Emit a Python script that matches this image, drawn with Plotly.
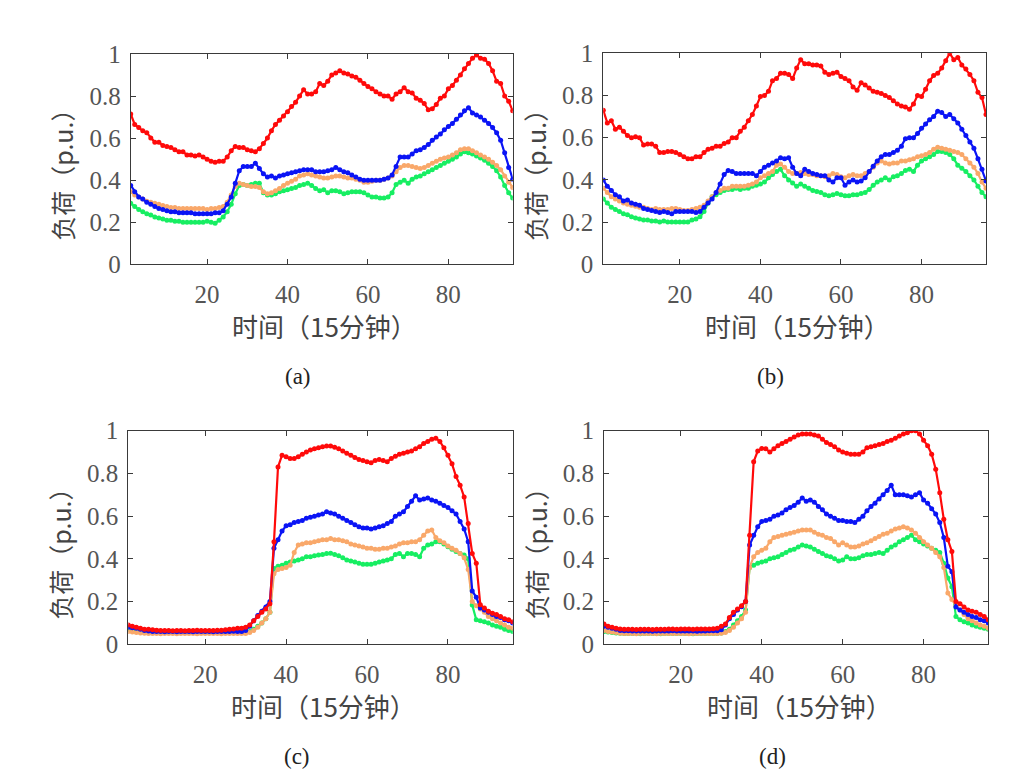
import plotly.graph_objects as go

time_slots = list(range(1, 97))
x_ticks = [20, 40, 60, 80]
y_ticks = [0, 0.2, 0.4, 0.6, 0.8, 1]
y_tick_text = ["0", "0.2", "0.4", "0.6", "0.8", "1"]
panel_labels = ["(a)", "(b)", "(c)", "(d)"]
x_title = "时间（15分钟）"
y_title = "负荷（p.u.）"

a_red = [0.715, 0.665, 0.65, 0.635, 0.625, 0.60, 0.58, 0.58, 0.565, 0.56,
         0.555, 0.545, 0.535, 0.535, 0.52, 0.52, 0.515, 0.52, 0.51, 0.50,
         0.49, 0.485, 0.49, 0.49, 0.51, 0.54, 0.56, 0.555, 0.555, 0.545,
         0.54, 0.535, 0.55, 0.575, 0.60, 0.635, 0.665, 0.685, 0.705, 0.725,
         0.75, 0.77, 0.80, 0.83, 0.81, 0.81, 0.82, 0.86, 0.85, 0.87,
         0.90, 0.91, 0.92, 0.91, 0.905, 0.895, 0.89, 0.875, 0.86, 0.845,
         0.835, 0.82, 0.81, 0.80, 0.80, 0.785, 0.81, 0.82, 0.84, 0.82,
         0.815, 0.79, 0.78, 0.765, 0.735, 0.74, 0.76, 0.79, 0.80, 0.835,
         0.85, 0.875, 0.90, 0.93, 0.955, 0.98, 0.995, 0.98, 0.975, 0.955,
         0.92, 0.87, 0.86, 0.80, 0.775, 0.73]
a_blue = [0.375, 0.345, 0.32, 0.31, 0.295, 0.285, 0.275, 0.265, 0.26, 0.255,
          0.25, 0.25, 0.245, 0.245, 0.245, 0.245, 0.24, 0.24, 0.24, 0.24,
          0.24, 0.245, 0.245, 0.255, 0.285, 0.32, 0.385, 0.445, 0.465, 0.465,
          0.465, 0.48, 0.455, 0.43, 0.415, 0.42, 0.41, 0.42, 0.425, 0.43,
          0.435, 0.44, 0.445, 0.45, 0.45, 0.45, 0.44, 0.44, 0.44, 0.445,
          0.45, 0.46, 0.45, 0.44, 0.435, 0.425, 0.415, 0.405, 0.40, 0.40,
          0.40, 0.40, 0.40, 0.405, 0.41, 0.425, 0.465, 0.51, 0.51, 0.51,
          0.525, 0.54, 0.545, 0.555, 0.57, 0.59, 0.605, 0.62, 0.64, 0.655,
          0.67, 0.69, 0.71, 0.73, 0.745, 0.72, 0.71, 0.70, 0.685, 0.67,
          0.65, 0.625, 0.59, 0.53, 0.46, 0.405]
a_orange = [0.345, 0.33, 0.32, 0.31, 0.30, 0.295, 0.29, 0.285, 0.28, 0.275,
            0.27, 0.27, 0.265, 0.265, 0.265, 0.265, 0.265, 0.265, 0.265, 0.26,
            0.265, 0.265, 0.27, 0.275, 0.295, 0.33, 0.37, 0.385, 0.38, 0.375,
            0.37, 0.37, 0.365, 0.345, 0.335, 0.34, 0.35, 0.36, 0.375, 0.385,
            0.395, 0.405, 0.42, 0.425, 0.43, 0.425, 0.42, 0.415, 0.41, 0.41,
            0.415, 0.42, 0.42, 0.415, 0.41, 0.41, 0.405, 0.40, 0.39, 0.39,
            0.395, 0.40, 0.40, 0.405, 0.41, 0.42, 0.44, 0.46, 0.47, 0.47,
            0.465, 0.46, 0.455, 0.46, 0.47, 0.48, 0.49, 0.50, 0.505, 0.51,
            0.52, 0.53, 0.545, 0.55, 0.55, 0.54, 0.53, 0.52, 0.51, 0.50,
            0.485, 0.47, 0.45, 0.42, 0.39, 0.365]
a_green = [0.29, 0.275, 0.26, 0.25, 0.24, 0.235, 0.225, 0.22, 0.215, 0.21,
           0.21, 0.205, 0.205, 0.20, 0.20, 0.20, 0.20, 0.20, 0.20, 0.205,
           0.20, 0.195, 0.21, 0.225, 0.25, 0.285, 0.335, 0.375, 0.38, 0.375,
           0.38, 0.385, 0.385, 0.34, 0.33, 0.33, 0.335, 0.345, 0.35, 0.355,
           0.36, 0.365, 0.375, 0.38, 0.385, 0.375, 0.36, 0.35, 0.355, 0.34,
           0.35, 0.35, 0.345, 0.335, 0.34, 0.345, 0.345, 0.345, 0.34, 0.33,
           0.32, 0.32, 0.315, 0.315, 0.32, 0.34, 0.38, 0.39, 0.40, 0.385,
           0.405, 0.415, 0.42, 0.43, 0.44, 0.45, 0.46, 0.47, 0.48, 0.49,
           0.50, 0.51, 0.525, 0.535, 0.53, 0.525, 0.515, 0.505, 0.495, 0.48,
           0.465, 0.445, 0.415, 0.375, 0.34, 0.315]

b_red = [0.73, 0.67, 0.68, 0.64, 0.65, 0.63, 0.61, 0.60, 0.605, 0.60,
         0.565, 0.57, 0.57, 0.56, 0.53, 0.53, 0.535, 0.535, 0.53, 0.52,
         0.51, 0.50, 0.50, 0.51, 0.51, 0.53, 0.545, 0.55, 0.56, 0.56,
         0.573, 0.58, 0.60, 0.60, 0.63, 0.65, 0.68, 0.71, 0.75, 0.795,
         0.80, 0.82, 0.87, 0.88, 0.905, 0.905, 0.90, 0.88, 0.93, 0.97,
         0.95, 0.95, 0.945, 0.945, 0.94, 0.91, 0.90, 0.905, 0.91, 0.89,
         0.88, 0.87, 0.84, 0.825, 0.86, 0.85, 0.835, 0.82, 0.815, 0.81,
         0.80, 0.79, 0.775, 0.76, 0.75, 0.745, 0.735, 0.76, 0.80, 0.795,
         0.83, 0.87, 0.895, 0.905, 0.93, 0.965, 1.0, 0.97, 0.98, 0.945,
         0.925, 0.90, 0.87, 0.815, 0.79, 0.71]
b_blue = [0.40, 0.37, 0.35, 0.33, 0.32, 0.30, 0.305, 0.29, 0.285, 0.28,
          0.265, 0.26, 0.255, 0.25, 0.245, 0.25, 0.245, 0.24, 0.25, 0.25,
          0.25, 0.25, 0.25, 0.245, 0.25, 0.27, 0.29, 0.31, 0.34, 0.38,
          0.425, 0.445, 0.44, 0.43, 0.43, 0.43, 0.43, 0.43, 0.42, 0.44,
          0.46, 0.47, 0.48, 0.49, 0.505, 0.50, 0.505, 0.46, 0.43, 0.42,
          0.45, 0.44, 0.43, 0.425, 0.42, 0.42, 0.40, 0.39, 0.41, 0.41,
          0.375, 0.39, 0.40, 0.39, 0.395, 0.41, 0.44, 0.465, 0.49, 0.51,
          0.52, 0.52, 0.53, 0.54, 0.56, 0.595, 0.60, 0.60, 0.62, 0.645,
          0.665, 0.685, 0.70, 0.725, 0.72, 0.70, 0.71, 0.69, 0.67, 0.64,
          0.61, 0.58, 0.55, 0.50, 0.45, 0.395]
b_orange = [0.36, 0.34, 0.32, 0.31, 0.30, 0.29, 0.285, 0.28, 0.275, 0.27,
            0.27, 0.265, 0.26, 0.265, 0.26, 0.26, 0.26, 0.265, 0.265, 0.26,
            0.255, 0.255, 0.26, 0.265, 0.27, 0.28, 0.30, 0.32, 0.34, 0.35,
            0.36, 0.36, 0.37, 0.37, 0.37, 0.37, 0.375, 0.38, 0.39, 0.41,
            0.42, 0.43, 0.44, 0.47, 0.475, 0.46, 0.44, 0.43, 0.43, 0.435,
            0.43, 0.425, 0.425, 0.42, 0.42, 0.415, 0.42, 0.43, 0.425, 0.415,
            0.41, 0.42, 0.425, 0.42, 0.42, 0.43, 0.44, 0.46, 0.48, 0.49,
            0.48, 0.475, 0.48, 0.48, 0.49, 0.49, 0.495, 0.50, 0.51, 0.515,
            0.52, 0.53, 0.545, 0.555, 0.55, 0.545, 0.54, 0.535, 0.53, 0.52,
            0.50, 0.48, 0.46, 0.43, 0.39, 0.36]
b_green = [0.31, 0.29, 0.27, 0.26, 0.25, 0.24, 0.235, 0.225, 0.22, 0.215,
           0.21, 0.21, 0.205, 0.205, 0.20, 0.205, 0.20, 0.20, 0.20, 0.20,
           0.20, 0.20, 0.21, 0.215, 0.225, 0.25, 0.29, 0.32, 0.33, 0.34,
           0.35, 0.355, 0.355, 0.36, 0.355, 0.36, 0.36, 0.37, 0.375, 0.38,
           0.39, 0.41, 0.425, 0.44, 0.45, 0.42, 0.40, 0.385, 0.37, 0.38,
           0.37, 0.36, 0.35, 0.345, 0.34, 0.33, 0.325, 0.33, 0.335, 0.33,
           0.325, 0.325, 0.33, 0.33, 0.335, 0.34, 0.355, 0.375, 0.39, 0.40,
           0.41, 0.40, 0.415, 0.42, 0.43, 0.445, 0.45, 0.44, 0.47, 0.49,
           0.50, 0.51, 0.52, 0.535, 0.535, 0.53, 0.52, 0.50, 0.47, 0.455,
           0.44, 0.42, 0.40, 0.37, 0.34, 0.32]

c_red = [0.09, 0.085, 0.08, 0.075, 0.07, 0.07, 0.068, 0.066, 0.065, 0.065,
         0.065, 0.064, 0.065, 0.065, 0.064, 0.065, 0.065, 0.066, 0.065, 0.065,
         0.065, 0.065, 0.066, 0.066, 0.068, 0.07, 0.072, 0.075, 0.075, 0.08,
         0.09, 0.11, 0.13, 0.15, 0.165, 0.19, 0.48, 0.83, 0.885, 0.878,
         0.87, 0.87, 0.878, 0.89, 0.90, 0.91, 0.915, 0.92, 0.925, 0.928,
         0.928, 0.922, 0.915, 0.905, 0.895, 0.885, 0.875, 0.865, 0.86, 0.855,
         0.85, 0.86, 0.865, 0.86, 0.855, 0.87, 0.88, 0.89, 0.895, 0.90,
         0.905, 0.915, 0.925, 0.94, 0.95, 0.96, 0.965, 0.95, 0.92, 0.885,
         0.845, 0.785, 0.745, 0.69, 0.565, 0.425, 0.38, 0.185, 0.17, 0.155,
         0.145, 0.14, 0.13, 0.12, 0.115, 0.105]
c_blue = [0.08, 0.078, 0.075, 0.07, 0.065, 0.062, 0.06, 0.06, 0.06, 0.059,
          0.06, 0.06, 0.059, 0.06, 0.06, 0.06, 0.059, 0.06, 0.06, 0.06,
          0.06, 0.059, 0.06, 0.06, 0.06, 0.06, 0.061, 0.06, 0.06, 0.065,
          0.085, 0.11, 0.135, 0.155, 0.175, 0.20, 0.45, 0.49, 0.53, 0.555,
          0.56, 0.57, 0.575, 0.58, 0.59, 0.595, 0.60, 0.605, 0.61, 0.62,
          0.615, 0.61, 0.60, 0.59, 0.58, 0.57, 0.56, 0.55, 0.545, 0.545,
          0.54, 0.545, 0.55, 0.555, 0.565, 0.575, 0.60, 0.61, 0.62, 0.645,
          0.67, 0.695, 0.675, 0.68, 0.685, 0.675, 0.67, 0.66, 0.65, 0.64,
          0.625, 0.61, 0.575, 0.54, 0.48, 0.25, 0.22, 0.17, 0.16, 0.15,
          0.14, 0.13, 0.125, 0.115, 0.11, 0.10]
c_orange = [0.06, 0.058, 0.055, 0.053, 0.052, 0.05, 0.05, 0.05, 0.049, 0.05,
            0.05, 0.05, 0.049, 0.05, 0.05, 0.05, 0.05, 0.049, 0.05, 0.05,
            0.05, 0.05, 0.05, 0.049, 0.05, 0.05, 0.05, 0.05, 0.05, 0.051,
            0.055, 0.065, 0.08, 0.10, 0.12, 0.15, 0.33, 0.35, 0.355, 0.36,
            0.37, 0.43, 0.465, 0.47, 0.475, 0.475, 0.48, 0.485, 0.49, 0.49,
            0.495, 0.49, 0.49, 0.485, 0.48, 0.47, 0.465, 0.46, 0.455, 0.45,
            0.45, 0.445, 0.445, 0.45, 0.45, 0.455, 0.46, 0.47, 0.475, 0.475,
            0.48, 0.48, 0.49, 0.51, 0.53, 0.535, 0.50, 0.485, 0.475, 0.46,
            0.45, 0.44, 0.425, 0.405, 0.35, 0.20, 0.18, 0.165, 0.15, 0.13,
            0.12, 0.11, 0.10, 0.09, 0.08, 0.075]
c_green = [0.07, 0.068, 0.065, 0.062, 0.06, 0.058, 0.057, 0.056, 0.055, 0.055,
           0.055, 0.055, 0.054, 0.055, 0.055, 0.055, 0.055, 0.054, 0.055, 0.055,
           0.055, 0.055, 0.055, 0.054, 0.055, 0.055, 0.055, 0.055, 0.055, 0.056,
           0.06, 0.07, 0.085, 0.10, 0.12, 0.15, 0.355, 0.365, 0.37, 0.38,
           0.385, 0.39, 0.395, 0.40, 0.41, 0.41, 0.415, 0.418, 0.42, 0.425,
           0.426, 0.42, 0.415, 0.405, 0.395, 0.39, 0.385, 0.38, 0.375, 0.375,
           0.375, 0.38, 0.385, 0.39, 0.395, 0.40, 0.42, 0.425, 0.41, 0.425,
           0.425, 0.42, 0.41, 0.45, 0.465, 0.47, 0.48, 0.48, 0.47, 0.457,
           0.445, 0.434, 0.425, 0.418, 0.40, 0.184, 0.115, 0.11, 0.105, 0.10,
           0.09, 0.085, 0.08, 0.07, 0.065, 0.06]

d_red = [0.095, 0.085, 0.08, 0.075, 0.072, 0.07, 0.07, 0.07, 0.069, 0.07,
         0.07, 0.07, 0.069, 0.07, 0.07, 0.07, 0.072, 0.072, 0.071, 0.072,
         0.072, 0.072, 0.071, 0.072, 0.072, 0.072, 0.072, 0.073, 0.075, 0.085,
         0.095, 0.125, 0.15, 0.165, 0.18, 0.20, 0.51, 0.855, 0.905, 0.917,
         0.915, 0.90, 0.915, 0.93, 0.94, 0.95, 0.96, 0.97, 0.98, 0.985,
         0.985, 0.985, 0.98, 0.975, 0.96, 0.945, 0.935, 0.925, 0.91, 0.90,
         0.895, 0.89, 0.89, 0.89, 0.90, 0.92, 0.925, 0.93, 0.935, 0.94,
         0.95, 0.955, 0.965, 0.975, 0.985, 0.99, 1.0, 1.0, 0.985, 0.955,
         0.93, 0.89, 0.82, 0.71, 0.585, 0.49, 0.435, 0.20, 0.19, 0.175,
         0.16, 0.155, 0.15, 0.14, 0.13, 0.115]
d_blue = [0.085, 0.08, 0.075, 0.07, 0.065, 0.064, 0.063, 0.062, 0.062, 0.062,
          0.062, 0.062, 0.061, 0.062, 0.062, 0.062, 0.062, 0.063, 0.062, 0.062,
          0.062, 0.062, 0.062, 0.061, 0.062, 0.062, 0.063, 0.063, 0.064, 0.068,
          0.09, 0.12, 0.14, 0.16, 0.176, 0.20, 0.465, 0.51, 0.55, 0.575,
          0.58, 0.585, 0.60, 0.605, 0.615, 0.63, 0.64, 0.65, 0.665, 0.685,
          0.67, 0.675, 0.665, 0.645, 0.63, 0.61, 0.60, 0.59, 0.58, 0.58,
          0.575, 0.575, 0.57, 0.585, 0.60, 0.625, 0.645, 0.66, 0.68, 0.70,
          0.72, 0.745, 0.70, 0.70, 0.70, 0.695, 0.69, 0.70, 0.71, 0.675,
          0.66, 0.635, 0.61, 0.57, 0.50, 0.365, 0.34, 0.175, 0.16, 0.15,
          0.14, 0.13, 0.125, 0.115, 0.11, 0.10]
d_orange = [0.065, 0.06, 0.058, 0.055, 0.052, 0.05, 0.05, 0.05, 0.049, 0.05,
            0.05, 0.05, 0.05, 0.049, 0.05, 0.05, 0.05, 0.05, 0.05, 0.05,
            0.05, 0.049, 0.05, 0.05, 0.05, 0.05, 0.05, 0.05, 0.05, 0.052,
            0.055, 0.065, 0.08, 0.10, 0.12, 0.15, 0.36, 0.41, 0.43, 0.44,
            0.45, 0.48, 0.50, 0.505, 0.51, 0.515, 0.52, 0.525, 0.53, 0.535,
            0.535, 0.535, 0.525, 0.515, 0.51, 0.50, 0.495, 0.48, 0.465, 0.475,
            0.465, 0.455, 0.455, 0.46, 0.47, 0.475, 0.485, 0.495, 0.505, 0.515,
            0.52, 0.53, 0.54, 0.545, 0.55, 0.545, 0.535, 0.52, 0.50, 0.48,
            0.465, 0.45, 0.43, 0.41, 0.36, 0.24, 0.21, 0.18, 0.16, 0.14,
            0.12, 0.11, 0.10, 0.09, 0.085, 0.075]
d_green = [0.06, 0.058, 0.055, 0.053, 0.052, 0.05, 0.05, 0.05, 0.05, 0.049,
           0.05, 0.05, 0.05, 0.05, 0.049, 0.05, 0.05, 0.05, 0.05, 0.05,
           0.05, 0.05, 0.049, 0.05, 0.05, 0.05, 0.05, 0.05, 0.05, 0.053,
           0.06, 0.07, 0.09, 0.11, 0.13, 0.16, 0.36, 0.37, 0.38, 0.385,
           0.39, 0.40, 0.405, 0.41, 0.42, 0.43, 0.44, 0.445, 0.455, 0.465,
           0.46, 0.455, 0.445, 0.435, 0.425, 0.415, 0.41, 0.40, 0.39, 0.395,
           0.41, 0.40, 0.40, 0.405, 0.415, 0.42, 0.42, 0.425, 0.43, 0.425,
           0.44, 0.455, 0.465, 0.48, 0.49, 0.50, 0.51, 0.49, 0.48, 0.47,
           0.46, 0.45, 0.44, 0.43, 0.38, 0.31, 0.27, 0.13, 0.115, 0.105,
           0.10, 0.09, 0.085, 0.08, 0.075, 0.07]

panels = [
    {"red": a_red, "blue": a_blue, "orange": a_orange, "green": a_green},
    {"red": b_red, "blue": b_blue, "orange": b_orange, "green": b_green},
    {"red": c_red, "blue": c_blue, "orange": c_orange, "green": c_green},
    {"red": d_red, "blue": d_blue, "orange": d_orange, "green": d_green},
]
colors = {"green": "#17EE62", "orange": "#F9A86A", "blue": "#0A14F5", "red": "#FF0A0A"}
draw_order = ["green", "orange", "blue", "red"]

W, H = 1020, 779
OFF = 8  # the page body adds an 8 px margin around the figure
# plot boxes in page pixels: (left, right, top, bottom)
boxes = [(130.7, 512.7, 54.0, 264.3),
         (603.3, 986.0, 53.3, 264.3),
         (128.3, 512.7, 430.7, 644.3),
         (604.0, 988.3, 430.7, 644.3)]


def fx(px):
    return (px - OFF) / W


def fy(py):
    return 1 - (py - OFF) / H


serif = "Liberation Serif"
fig = go.Figure()
annotations = []
for i, (p, box) in enumerate(zip(panels, boxes)):
    n = "" if i == 0 else str(i + 1)
    for key in draw_order:
        fig.add_trace(go.Scatter(
            x=time_slots, y=p[key], mode="lines+markers",
            line=dict(color=colors[key], width=2.2),
            marker=dict(color=colors[key], size=5, symbol="circle"),
            xaxis="x" + n, yaxis="y" + n, showlegend=False,
            hoverinfo="x+y"))
    l, r, t, b = box
    axis_common = dict(showline=True, linecolor="#3a3a3a", linewidth=1, mirror="ticks",
                       ticks="inside", ticklen=5, tickcolor="#3a3a3a", showgrid=False,
                       zeroline=False, automargin=False,
                       tickfont=dict(family=serif, size=25, color="#555555"))
    fig.update_layout(**{
        "xaxis" + n: dict(domain=[fx(l), fx(r)], range=[1, 96], tickvals=x_ticks,
                          anchor="y" + n, ticklabelstandoff=8, **axis_common),
        "yaxis" + n: dict(domain=[fy(b), fy(t)], range=[0, 1], tickvals=y_ticks,
                          ticktext=y_tick_text, anchor="x" + n, ticklabelstandoff=4,
                          **axis_common),
    })
    cx = (l + r) / 2
    annotations.append(dict(text=y_title, x=fx(l - 69), y=fy((t + b) / 2 + 10),
                            xref="paper", yref="paper", showarrow=False, textangle=-90,
                            xanchor="center", yanchor="middle",
                            font=dict(family="Noto Sans CJK SC", size=25, color="#444444")))
    annotations.append(dict(text=x_title, x=fx(cx + 3), y=fy(b + 61),
                            xref="paper", yref="paper", showarrow=False,
                            xanchor="center", yanchor="middle",
                            font=dict(family="Noto Sans CJK SC", size=26, color="#444444")))
    annotations.append(dict(text=panel_labels[i], x=fx(cx - 23.7), y=fy(b + 112),
                            xref="paper", yref="paper", showarrow=False,
                            xanchor="center", yanchor="middle",
                            font=dict(family=serif, size=23, color="#222222")))

fig.update_layout(width=W, height=H, margin=dict(l=0, r=0, t=0, b=0),
                  paper_bgcolor="white", plot_bgcolor="white",
                  annotations=annotations, showlegend=False)

fig.write_html("out.html")
